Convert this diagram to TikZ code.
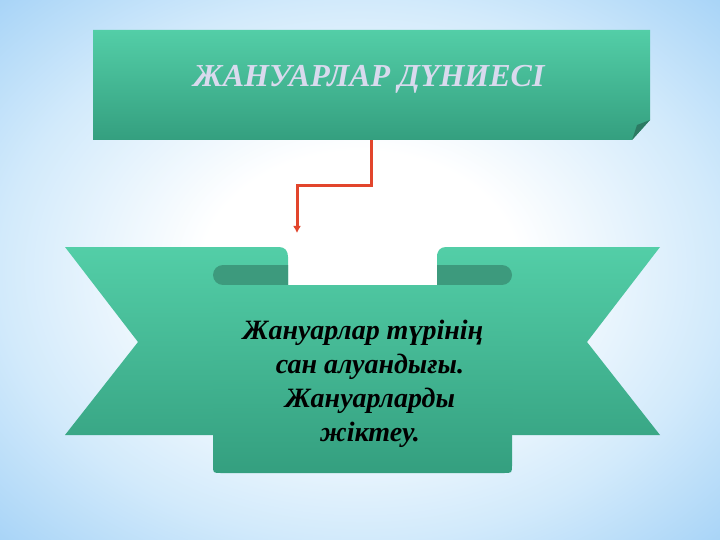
\documentclass[tikz,border=0pt]{standalone}
\usepackage{fontspec}
\setmainfont{Liberation Serif}
\usetikzlibrary{positioning,arrows.meta}

\definecolor{bgblue}{HTML}{A6D3F7}
\definecolor{bgmid}{HTML}{D2EAFB}
\definecolor{mintTop}{HTML}{53CEA7}
\definecolor{mintBot}{HTML}{349F7F}
\definecolor{curl}{HTML}{3D9A7D}
\definecolor{fold}{HTML}{2C7A63}
\definecolor{arrowred}{HTML}{E2452C}
\definecolor{titlegray}{HTML}{D9DAEE}
\pgfdeclareradialshading{bgglow}{\pgfpoint{0bp}{0bp}}{color(0bp)=(white); color(11bp)=(white); color(25bp)=(bgmid); color(36bp)=(bgblue); color(50bp)=(bgblue)}

\begin{document}
\begin{tikzpicture}[x=1pt, y=-1pt, >={Latex[length=7pt,width=8pt]},
  banner/.style={minimum width=557pt, minimum height=110pt, inner sep=0pt},
  heading/.style={font=\bfseries\itshape\fontsize{32}{36}\selectfont, text=titlegray},
  caption/.style={font=\bfseries\itshape\fontsize{28}{34}\selectfont, align=center, inner sep=0pt},
  panel/.style={top color=mintTop, bottom color=mintBot},
  tail/.style={top color=mintTop, bottom color=mintBot!83!mintTop},
  front/.style={top color=mintBot!17!mintTop, bottom color=mintBot},
  link/.style={arrowred, line width=3pt, ->}] 
   \useasboundingbox (0,0) rectangle (720,540);
   \fill[shading=bgglow] (0,0) rectangle (720,540);
   % top banner with folded corner
   \path[panel] (93,30) -- (650,30) -- (650,120) -- (632,140) -- (93,140) -- cycle;
   \fill[fold] (632,140) -- (637,125) -- (650,120) -- cycle;
   \node[banner] (title) at (371.5,85) {};
   \node[heading, anchor=base] (titletext) at (369,87) {ЖАНУАРЛАР ДҮНИЕСІ};
   % ribbon: tails, curls, front panel
   \path[tail] (65,247) -- (279,247) .. controls (285,247) and (288,251) .. (288,257)
      -- (288,435) -- (65,435) -- (138,342) -- cycle;
   \path[tail] (660,247) -- (446,247) .. controls (440,247) and (437,251) .. (437,257)
      -- (437,435) -- (660,435) -- (587,342) -- cycle;
   \fill[curl, rounded corners=10pt] (288,265) -- (213,265) -- (213,285) -- (288,285);
   \fill[curl, rounded corners=10pt] (437,265) -- (512,265) -- (512,285) -- (437,285);
   \path[front] (213,285) -- (512,285) -- (512,465) .. controls (512,473) .. (504,473)
      -- (221,473) .. controls (213,473) .. (213,465) -- cycle;
   \node[caption] (topic) at (370,384) {Жануарлар түрінің\hspace*{0.5em}\\сан алуандығы.\\Жануарларды\\жіктеу.};
   % connector
   \coordinate (tip) at (297,233);
   \draw[link] (title.south) -- ++(0,45) -| (tip);
\end{tikzpicture}
\end{document}
